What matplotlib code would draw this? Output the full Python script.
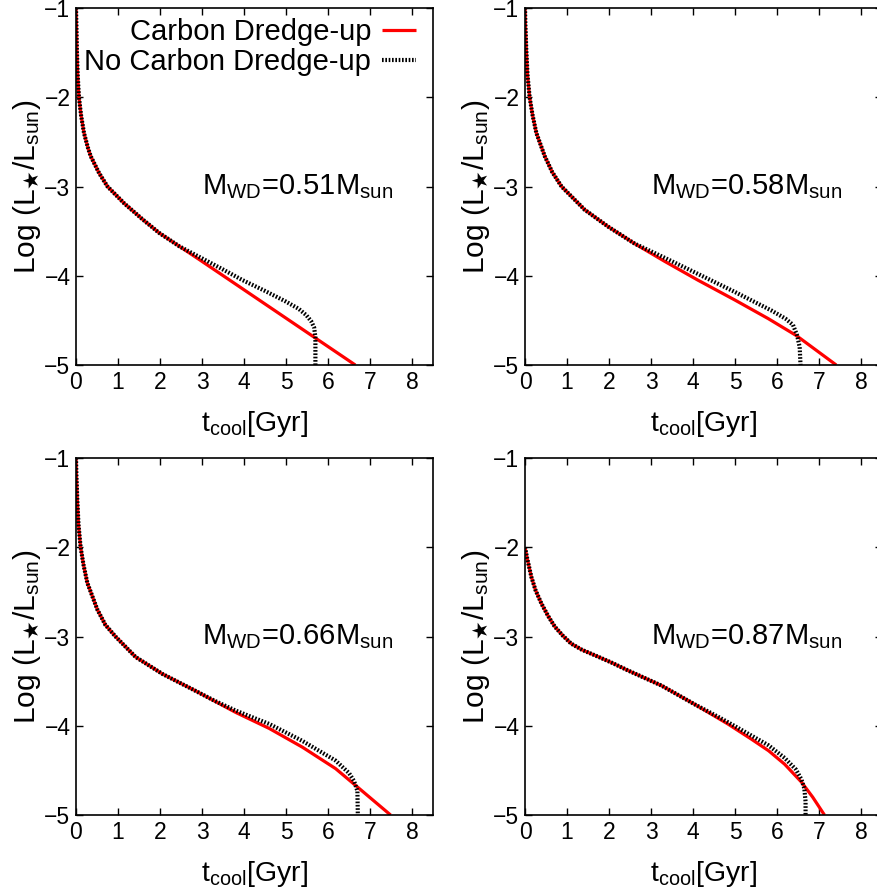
import matplotlib
matplotlib.use("Agg")
import matplotlib.pyplot as plt

plt.rcParams["font.family"] = ["Liberation Sans", "DejaVu Sans"]
plt.rcParams["mathtext.fontset"] = "custom"
plt.rcParams["mathtext.rm"] = "Liberation Sans"
plt.rcParams["mathtext.it"] = "Liberation Sans"
plt.rcParams["mathtext.sf"] = "DejaVu Sans"
plt.rcParams["mathtext.fallback"] = "stixsans"

# --- data (t_cool in Gyr, log L/Lsun) ---
masses = ["0.51", "0.58", "0.66", "0.87"]

t_cdu_051 = [0.0, 0.01, 0.02, 0.04, 0.07, 0.12, 0.19, 0.28, 0.35, 0.55, 0.75, 1.15, 1.59, 1.98, 2.46, 2.94, 6.65]
l_cdu_051 = [-1.0, -1.2, -1.46, -1.75, -2.0, -2.2, -2.4, -2.56, -2.66, -2.85, -3.0, -3.19, -3.37, -3.52, -3.67, -3.82, -5.0]
t_ncdu_051 = [0.0, 0.01, 0.02, 0.04, 0.07, 0.12, 0.19, 0.28, 0.35, 0.55, 0.75, 1.15, 1.59, 1.98, 2.46, 2.94, 3.5, 3.97, 4.5, 5.0, 5.3, 5.48, 5.6, 5.67, 5.70, 5.70]
l_ncdu_051 = [-1.0, -1.2, -1.46, -1.75, -2.0, -2.2, -2.4, -2.56, -2.66, -2.85, -3.0, -3.19, -3.37, -3.52, -3.67, -3.79, -3.93, -4.05, -4.17, -4.29, -4.37, -4.44, -4.51, -4.58, -4.69, -5.0]

t_cdu_058 = [0.0, 0.01, 0.03, 0.06, 0.11, 0.18, 0.27, 0.47, 0.65, 0.87, 1.42, 1.98, 2.61, 3.33, 4.12, 4.99, 5.79, 6.46, 7.41]
l_cdu_058 = [-1.0, -1.2, -1.46, -1.75, -2.0, -2.2, -2.4, -2.66, -2.84, -3.0, -3.26, -3.45, -3.64, -3.84, -4.05, -4.27, -4.48, -4.67, -5.0]
t_ncdu_058 = [0.0, 0.01, 0.03, 0.06, 0.11, 0.18, 0.27, 0.47, 0.65, 0.87, 1.42, 1.98, 2.61, 3.33, 4.12, 4.99, 5.87, 6.2, 6.38, 6.48, 6.54, 6.56]
l_ncdu_058 = [-1.0, -1.2, -1.46, -1.75, -2.0, -2.2, -2.4, -2.66, -2.84, -3.0, -3.26, -3.45, -3.64, -3.80, -3.98, -4.18, -4.39, -4.48, -4.55, -4.67, -4.80, -5.0]

t_cdu_066 = [0.0, 0.01, 0.03, 0.06, 0.11, 0.18, 0.27, 0.51, 0.70, 0.94, 1.42, 2.06, 2.85, 3.80, 4.60, 5.39, 6.18, 6.66, 7.49]
l_cdu_066 = [-1.0, -1.2, -1.46, -1.75, -2.0, -2.2, -2.4, -2.70, -2.87, -3.0, -3.23, -3.42, -3.61, -3.85, -4.03, -4.24, -4.48, -4.67, -5.0]
t_ncdu_066 = [0.0, 0.01, 0.03, 0.06, 0.11, 0.18, 0.27, 0.51, 0.70, 0.94, 1.42, 2.06, 2.85, 3.30, 3.80, 4.60, 5.39, 6.18, 6.5, 6.62, 6.70, 6.71]
l_ncdu_066 = [-1.0, -1.2, -1.46, -1.75, -2.0, -2.2, -2.4, -2.70, -2.87, -3.0, -3.23, -3.42, -3.61, -3.72, -3.83, -3.98, -4.17, -4.39, -4.53, -4.62, -4.73, -5.0]

t_cdu_087 = [0.0, 0.05, 0.15, 0.25, 0.39, 0.55, 0.71, 0.90, 1.10, 1.36, 1.66, 2.05, 2.45, 3.25, 4.04, 4.83, 5.39, 5.8, 6.18, 6.58, 6.85, 7.13]
l_cdu_087 = [-2.0, -2.12, -2.33, -2.48, -2.63, -2.77, -2.89, -2.99, -3.08, -3.15, -3.21, -3.29, -3.38, -3.55, -3.76, -3.98, -4.15, -4.28, -4.43, -4.63, -4.80, -5.0]
t_ncdu_087 = [0.0, 0.05, 0.15, 0.25, 0.39, 0.55, 0.71, 0.90, 1.10, 1.36, 1.66, 2.05, 2.45, 3.25, 4.04, 4.6, 4.83, 5.39, 5.8, 6.18, 6.45, 6.58, 6.65, 6.68, 6.68]
l_ncdu_087 = [-2.0, -2.12, -2.33, -2.48, -2.63, -2.77, -2.89, -2.99, -3.08, -3.15, -3.21, -3.29, -3.38, -3.55, -3.76, -3.90, -3.96, -4.11, -4.22, -4.36, -4.49, -4.60, -4.70, -4.85, -5.0]

panels = [
    (t_cdu_051, l_cdu_051, t_ncdu_051, l_ncdu_051),
    (t_cdu_058, l_cdu_058, t_ncdu_058, l_ncdu_058),
    (t_cdu_066, l_cdu_066, t_ncdu_066, l_ncdu_066),
    (t_cdu_087, l_cdu_087, t_ncdu_087, l_ncdu_087),
]

x_ticks = [0, 1, 2, 3, 4, 5, 6, 7, 8]
y_ticks = [-5, -4, -3, -2, -1]

W, H = 878, 893
fig = plt.figure(figsize=(W / 100, H / 100), dpi=100)

# axes boxes in pixels: (left, top)
boxes = [(76, 8), (525, 8), (76, 458), (525, 458)]
size = 357

for i, (tc, lc, tn, ln) in enumerate(panels):
    left, top = boxes[i]
    ax = fig.add_axes([left / W, 1 - (top + size) / H, size / W, size / H])

    ax.plot(tc, lc, color="red", lw=2.3, solid_capstyle="butt", label="Carbon Dredge-up")
    ax.plot(tn, ln, color="black", lw=3.0, linestyle=(0, (0.4, 0.4)),
            label="No Carbon Dredge-up")

    ax.set_xlim(0, 8.5)
    ax.set_ylim(-5, -1)
    ax.set_xticks(x_ticks)
    ax.set_yticks(y_ticks)
    ax.set_yticklabels([f"\u2212{abs(v)}" for v in y_ticks])
    ax.tick_params(direction="in", top=True, right=True, length=5, width=1,
                   labelsize=16.5, pad=4)
    for s in ax.spines.values():
        s.set_linewidth(1.2)

    ax.set_xlabel(r"t$_{cool}$[Gyr]", fontsize=20.5, labelpad=11)
    ax.set_ylabel(r"Log (L$_{\mathsf{\bigstar}}$/L$_{sun}$)", fontsize=21.5, labelpad=1)

    ax.text(3.0, -3.09, "M$_{WD}$=" + masses[i] + "M$_{sun}$", fontsize=21,
            ha="left", va="baseline")

    if i == 0:
        ax.legend(loc="upper right", frameon=False, markerfirst=False,
                  fontsize=21, handlelength=1.15, handletextpad=0.38,
                  labelspacing=0.08, borderaxespad=0.0, borderpad=0.0,
                  bbox_to_anchor=(1 - 17 / size, 1 - 10 / size))

fig.savefig("out.png", dpi=100)
